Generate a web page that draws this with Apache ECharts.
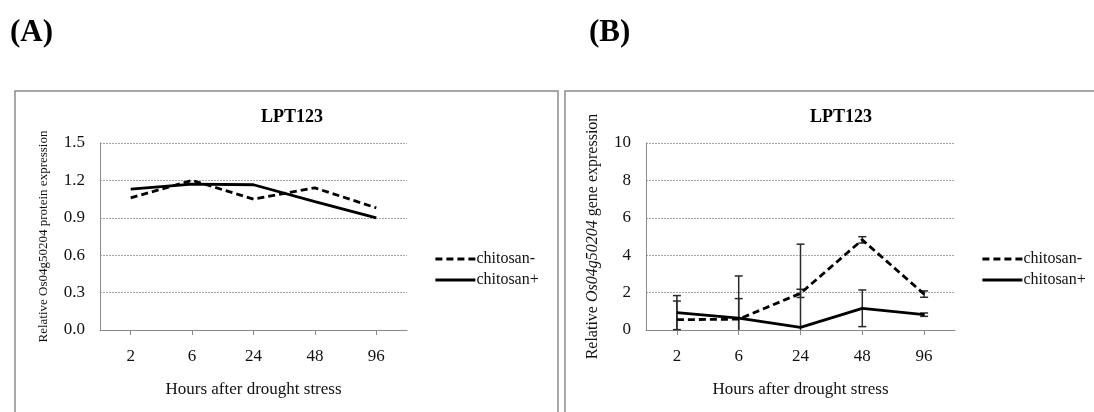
<!DOCTYPE html>
<html>
<head>
<meta charset="utf-8">
<script src="https://cdn.jsdelivr.net/npm/echarts@6/dist/echarts.min.js"></script>
<style>
html,body{margin:0;padding:0;background:#fff;}
#chart{width:1094px;height:412px;}
</style>
</head>
<body>
<div id="chart"></div>
<script>
// ---- data ----
var categories = ['2', '6', '24', '48', '96'];
var seriesNames = ['chitosan-', 'chitosan+'];
// Panel A: relative protein expression
var proteinMinus = [1.06, 1.20, 1.05, 1.14, 0.98];
var proteinPlus  = [1.13, 1.17, 1.165, 1.03, 0.90];
// Panel B: relative gene expression with error bars
var geneMinus    = [0.55, 0.58, 1.96, 4.82, 1.92];
var geneMinusErr = [1.00, 1.10, 0.22, 0.17, 0.17];
var genePlus     = [0.93, 0.63, 0.14, 1.16, 0.82];
var genePlusErr  = [0.91, 2.26, 4.45, 0.98, 0.09];
// tick settings
var yTicksA = {min: 0, max: 1.5, interval: 0.3};
var yTicksB = {min: 0, max: 10, interval: 2};

var FONT = '"Liberation Serif", "DejaVu Serif", serif';
var AXIS_GRAY = '#8a8a8a';
var GRID_GRAY = '#a6a6a6';

function errData(vals, errs) {
  return vals.map(function (v, i) { return [i, v - errs[i], v + errs[i]]; });
}

function renderErr(params, api) {
  var idx = api.value(0);
  var lo = Math.max(api.value(1), 0);
  var hi = api.value(2);
  var loRaw = api.value(1);
  var pHi = api.coord([idx, hi]);
  var pLo = api.coord([idx, lo]);
  var cap = 4;
  var st = {stroke: '#2a2a2a', lineWidth: 1.5};
  var children = [
    {type: 'line', shape: {x1: pHi[0], y1: pHi[1], x2: pLo[0], y2: pLo[1]}, style: st},
    {type: 'line', shape: {x1: pHi[0] - cap, y1: pHi[1], x2: pHi[0] + cap, y2: pHi[1]}, style: st}
  ];
  if (loRaw >= 0) {
    children.push({type: 'line', shape: {x1: pLo[0] - cap, y1: pLo[1], x2: pLo[0] + cap, y2: pLo[1]}, style: st});
  }
  return {type: 'group', children: children};
}

function xAxisCfg(gridIndex) {
  return {
    type: 'category', gridIndex: gridIndex, data: categories, boundaryGap: true,
    axisLine: {lineStyle: {color: AXIS_GRAY, width: 1}},
    axisTick: {show: true, alignWithLabel: true, length: 5, lineStyle: {color: AXIS_GRAY}},
    axisLabel: {fontFamily: FONT, fontSize: 17, color: '#111', margin: 18},
    name: 'Hours after drought stress', nameLocation: 'middle', nameGap: 51,
    nameTextStyle: {fontFamily: FONT, fontSize: 17, color: '#111'}
  };
}

function yAxisCfg(gridIndex, t, name, nameSize, nameGap, digits) {
  return {
    type: 'value', gridIndex: gridIndex, min: t.min, max: t.max, interval: t.interval,
    axisLine: {show: true, lineStyle: {color: AXIS_GRAY, width: 1}},
    axisTick: {show: false},
    splitLine: {show: true, lineStyle: {color: GRID_GRAY, type: [2, 1], width: 1}},
    axisLabel: {fontFamily: FONT, fontSize: 17, color: '#111', margin: 15,
      formatter: function (v) { return v.toFixed(digits); }},
    name: name, nameLocation: 'middle', nameGap: nameGap, nameRotate: 90,
    nameTextStyle: {fontFamily: FONT, fontSize: nameSize, color: '#111',
      rich: {i: {fontFamily: FONT, fontSize: nameSize, fontStyle: 'italic', color: '#111'}}}
  };
}

var dashStyle = {color: '#000', width: 2.8, type: [7, 4]};
var solidStyle = {color: '#000', width: 2.8, type: 'solid'};

function legendCfg(left) {
  return {
    data: seriesNames, orient: 'vertical', left: left, top: 246,
    itemWidth: 40, itemHeight: 12, itemGap: 5,
    itemStyle: {color: 'rgba(0,0,0,0)', borderWidth: 0, opacity: 0},
    lineStyle: {width: 2.8},
    textStyle: {fontFamily: FONT, fontSize: 16, color: '#111', padding: [0, 0, 0, -4]},
    selectedMode: false
  };
}

var option = {
  backgroundColor: '#fff',
  animation: false,
  graphic: [
    {type: 'rect', shape: {x: 15, y: 91, width: 543, height: 340}, style: {fill: 'none', stroke: '#8c8c8c', lineWidth: 1.5}, silent: true},
    {type: 'rect', shape: {x: 565, y: 91, width: 545, height: 340}, style: {fill: 'none', stroke: '#8c8c8c', lineWidth: 1.5}, silent: true},
    {type: 'text', left: 10, top: 17, style: {text: '(A)', font: 'bold 31px ' + FONT, fill: '#000'}},
    {type: 'text', left: 589, top: 17, style: {text: '(B)', font: 'bold 31px ' + FONT, fill: '#000'}}
  ],
  title: [
    {text: 'LPT123', left: 287, top: 103, textAlign: 'center',
      textStyle: {fontFamily: FONT, fontSize: 18, fontWeight: 'bold', color: '#000'}},
    {text: 'LPT123', left: 836, top: 103, textAlign: 'center',
      textStyle: {fontFamily: FONT, fontSize: 18, fontWeight: 'bold', color: '#000'}}
  ],
  legend: [legendCfg(429), legendCfg(976)],
  grid: [
    {left: 100, right: 1094 - 407, top: 143, bottom: 412 - 330, containLabel: false},
    {left: 646, right: 1094 - 955, top: 143, bottom: 412 - 330, containLabel: false}
  ],
  xAxis: [xAxisCfg(0), xAxisCfg(1)],
  yAxis: [
    yAxisCfg(0, yTicksA, 'Relative Os04g50204 protein expression', 13, 50, 1),
    yAxisCfg(1, yTicksB, 'Relative {i|Os04g50204} gene expression', 16, 45, 0)
  ],
  series: [
    {type: 'custom', name: 'errMinus', xAxisIndex: 1, yAxisIndex: 1, renderItem: renderErr,
      data: errData(geneMinus, geneMinusErr), z: 1, silent: true},
    {type: 'custom', name: 'errPlus', xAxisIndex: 1, yAxisIndex: 1, renderItem: renderErr,
      data: errData(genePlus, genePlusErr), z: 1, silent: true},
    {type: 'line', name: 'chitosan-', xAxisIndex: 0, yAxisIndex: 0, data: proteinMinus,
      symbol: 'none', lineStyle: dashStyle, itemStyle: {color: '#000'}, z: 3},
    {type: 'line', name: 'chitosan+', xAxisIndex: 0, yAxisIndex: 0, data: proteinPlus,
      symbol: 'none', lineStyle: solidStyle, itemStyle: {color: '#000'}, z: 3},
    {type: 'line', name: 'chitosan-', xAxisIndex: 1, yAxisIndex: 1, data: geneMinus,
      symbol: 'none', lineStyle: dashStyle, itemStyle: {color: '#000'}, z: 3},
    {type: 'line', name: 'chitosan+', xAxisIndex: 1, yAxisIndex: 1, data: genePlus,
      symbol: 'none', lineStyle: solidStyle, itemStyle: {color: '#000'}, z: 3}
  ]
};

var chart = echarts.init(document.getElementById('chart'), null, {renderer: 'canvas'});
chart.setOption(option);
</script>
</body>
</html>
